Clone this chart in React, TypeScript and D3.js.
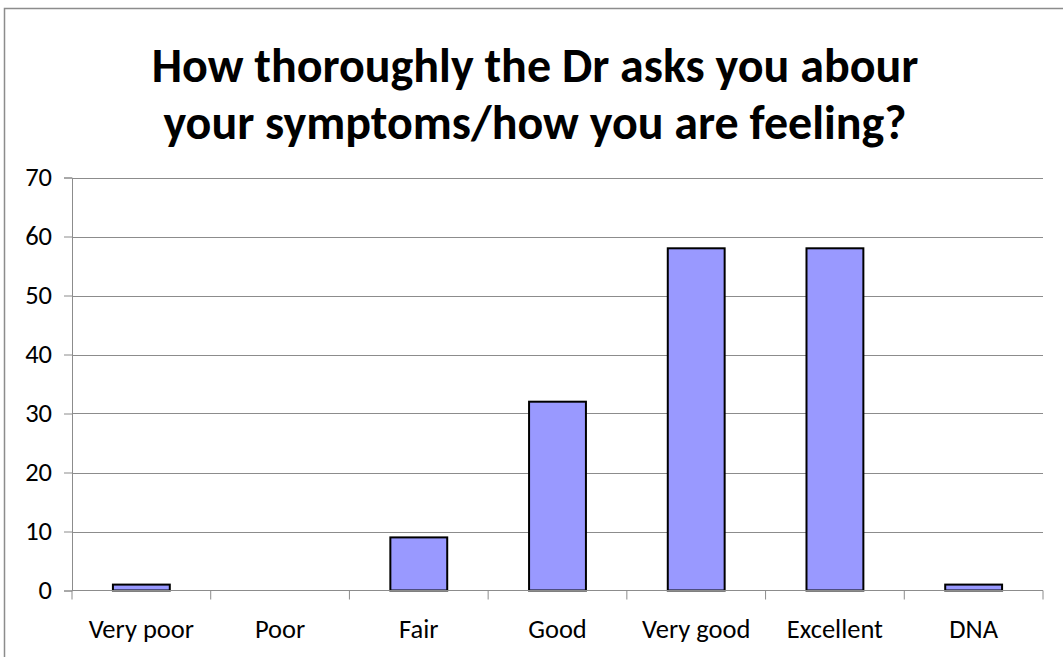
import { useEffect, useRef } from 'react';
import * as d3 from 'd3';

const categories = ['Very poor', 'Poor', 'Fair', 'Good', 'Very good', 'Excellent', 'DNA'];
const counts = [1, 0, 9, 32, 58, 58, 1];
const yTicks = [0, 10, 20, 30, 40, 50, 60, 70];
const titleLines = ['How thoroughly the Dr asks you abour', 'your symptoms/how you are feeling?'];

const W = 1063;
const H = 657;
const FONT = 'Carlito, Calibri, "Open Sans", sans-serif';

export default function App() {
  const svgRef = useRef<SVGSVGElement>(null);

  useEffect(() => {
    if (!svgRef.current) return;
    const svg = d3.select(svgRef.current);
    svg.selectAll('*').remove();

    const left = 72, right = 1043, top = 177.5, bottom = 590.5;

    // chart border (cut off on the right and bottom)
    svg.append('rect')
      .attr('x', 4.5).attr('y', 8.5)
      .attr('width', W + 10).attr('height', H + 10)
      .attr('fill', 'white')
      .attr('stroke', '#8c8c8c').attr('stroke-width', 1.5);

    const title = svg.append('text')
      .attr('text-anchor', 'middle')
      .attr('font-family', FONT)
      .attr('font-weight', 700)
      .attr('font-size', 48)
      .attr('fill', '#000');
    titleLines.forEach((line, i) => {
      title.append('tspan').attr('x', 535).attr('y', 82 + i * 57).text(line);
    });

    const x = d3.scaleBand().domain(categories).range([left, right]).paddingInner(0.59).paddingOuter(0.295);
    const y = d3.scaleLinear().domain([0, 70]).range([bottom, top]);

    // gridlines
    svg.append('g')
      .selectAll('line')
      .data(yTicks.filter((t) => t > 0))
      .join('line')
      .attr('x1', left).attr('x2', right)
      .attr('y1', (d) => Math.round(y(d)) + 0.5).attr('y2', (d) => Math.round(y(d)) + 0.5)
      .attr('stroke', '#8c8c8c').attr('stroke-width', 1);

    // y axis
    const yAxis = svg.append('g')
      .attr('transform', `translate(${left},0)`)
      .call(d3.axisLeft(y).tickValues(yTicks).tickSize(8).tickPadding(12));
    yAxis.select('.domain').attr('stroke', '#8c8c8c');
    yAxis.selectAll('.tick line').attr('stroke', '#8c8c8c');
    yAxis.selectAll('text')
      .attr('font-family', FONT).attr('font-size', 26.5).attr('fill', '#000');

    // bars
    svg.append('g')
      .selectAll('rect')
      .data(counts)
      .join('rect')
      .attr('x', (_, i) => x(categories[i])!)
      .attr('width', x.bandwidth())
      .attr('y', (d) => y(d))
      .attr('height', (d) => bottom - y(d))
      .attr('fill', (d) => (d > 0 ? '#9999ff' : 'none'))
      .attr('stroke', (d) => (d > 0 ? '#000' : 'none'))
      .attr('stroke-width', 2);

    // x axis
    const step = (right - left) / categories.length;
    const xg = svg.append('g');
    xg.append('line')
      .attr('x1', left).attr('x2', right)
      .attr('y1', bottom).attr('y2', bottom)
      .attr('stroke', '#8c8c8c');
    xg.selectAll('line.tick')
      .data(d3.range(categories.length + 1))
      .join('line')
      .attr('class', 'tick')
      .attr('x1', (i) => left + i * step).attr('x2', (i) => left + i * step)
      .attr('y1', bottom).attr('y2', bottom + 9)
      .attr('stroke', '#8c8c8c');
    xg.selectAll('text')
      .data(categories)
      .join('text')
      .attr('x', (d) => x(d)! + x.bandwidth() / 2)
      .attr('y', 638)
      .attr('text-anchor', 'middle')
      .attr('font-family', FONT).attr('font-size', 26.5).attr('fill', '#000')
      .text((d) => d);
  }, []);

  return (
    <div style={{ position: 'fixed', left: 0, top: 0, width: W, height: H, background: 'white' }}>
      <svg ref={svgRef} width={W} height={H} style={{ display: 'block' }} />
    </div>
  );
}
